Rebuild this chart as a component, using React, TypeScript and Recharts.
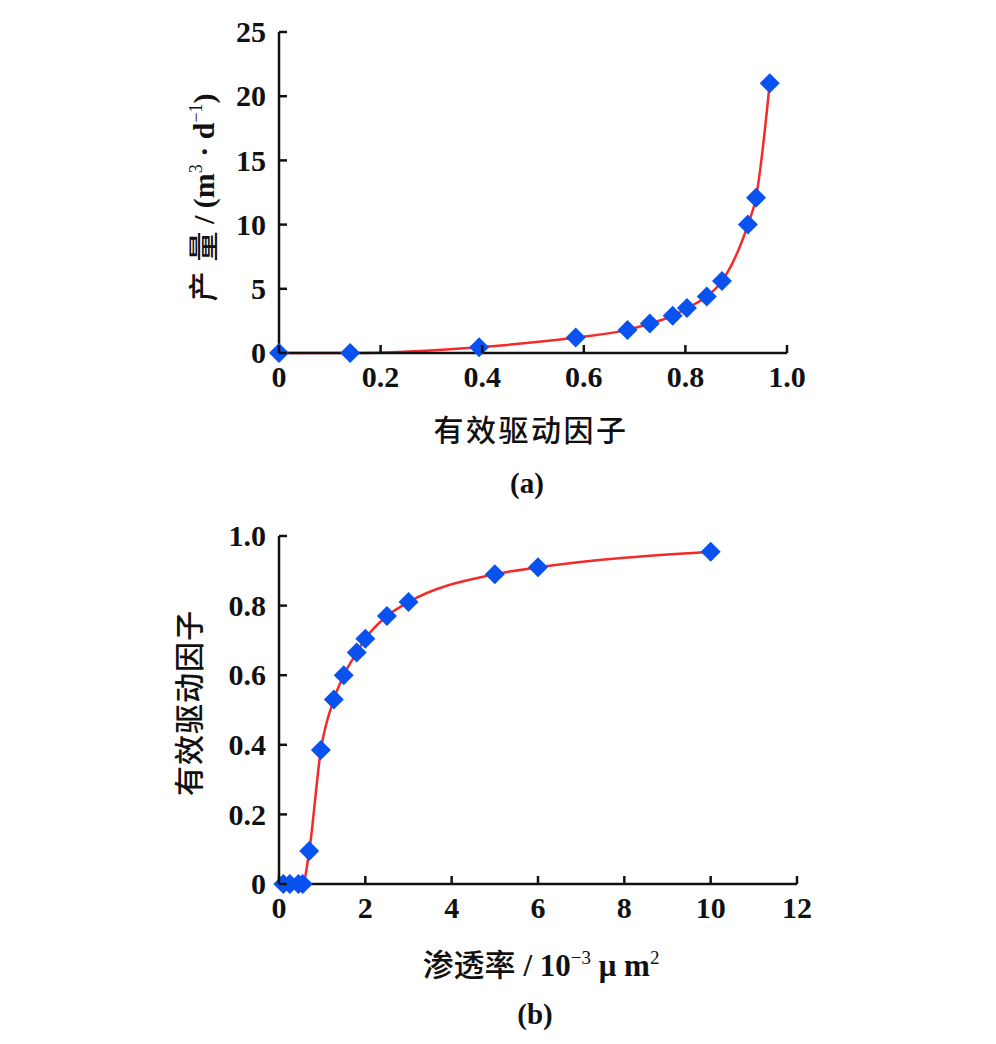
import { LineChart, Line, XAxis, YAxis, Label } from "recharts";

// (a) 产量 vs 有效驱动因子
const factorA = [0, 0.14, 0.394, 0.584, 0.686, 0.73, 0.775, 0.803, 0.842, 0.872, 0.923, 0.939, 0.966];
const outputA = [0, 0, 0.45, 1.2, 1.8, 2.3, 2.9, 3.5, 4.4, 5.6, 10, 12.1, 21];
const ticksAX = [0, 0.2, 0.4, 0.6, 0.8, 1.0];
const ticksAY = [0, 5, 10, 15, 20, 25];

// (b) 有效驱动因子 vs 渗透率
const permB = [0.1, 0.25, 0.45, 0.55, 0.7, 0.97, 1.27, 1.5, 1.8, 2.0, 2.5, 3.0, 5.0, 6.0, 10.0];
const factorB = [0, 0, 0, 0, 0.095, 0.385, 0.53, 0.6, 0.665, 0.705, 0.77, 0.81, 0.89, 0.91, 0.955];
const ticksBX = [0, 2, 4, 6, 8, 10, 12];
const ticksBY = [0, 0.2, 0.4, 0.6, 0.8, 1.0];

const dataA = factorA.map((x, i) => ({ x, y: outputA[i] }));
const dataB = permB.map((x, i) => ({ x, y: factorB[i] }));

const SERIF = "'Liberation Serif', 'Times New Roman', serif";
const CJK = "'Noto Sans CJK SC', sans-serif";
const LINE = "#f42a2a";
const MARK = "#0a52f0";
const INK = "#111";

const axisLine = { stroke: INK, strokeWidth: 2.5 };
const TICK_LEN = 8;
const X_GAP = 11;
const Y_GAP = 13;

const oneDecimal = (v: number) => (v === 0 ? "0" : v.toFixed(1));
const plain = (v: number) => String(v);

// ticks point inward, so draw the mark along with the label
function xTick(fmt: (v: number) => string) {
  return (p: any) => {
    const axisY = p.y - X_GAP;
    return (
      <g key={p.index}>
        <line x1={p.x} x2={p.x} y1={axisY} y2={axisY - TICK_LEN} stroke={INK} strokeWidth={2.5} />
        <text x={p.x} y={p.y} dy="0.78em" textAnchor="middle" fontFamily={SERIF} fontWeight="bold" fontSize={30} fill={INK}>
          {fmt(p.payload.value)}
        </text>
      </g>
    );
  };
}

function yTick(fmt: (v: number) => string) {
  return (p: any) => {
    const axisX = p.x + Y_GAP;
    return (
      <g key={p.index}>
        <line x1={axisX} x2={axisX + TICK_LEN} y1={p.y} y2={p.y} stroke={INK} strokeWidth={2.5} />
        <text x={p.x} y={p.y} dy="0.34em" textAnchor="end" fontFamily={SERIF} fontWeight="bold" fontSize={30} fill={INK}>
          {fmt(p.payload.value)}
        </text>
      </g>
    );
  };
}

function renderDiamond(p: any) {
  const { cx, cy, index } = p;
  if (cx == null || cy == null) return <g key={index} />;
  const r = 10;
  return (
    <polygon
      key={index}
      points={`${cx},${cy - r} ${cx + r},${cy} ${cx},${cy + r} ${cx - r},${cy}`}
      fill={MARK}
    />
  );
}

function ChartA() {
  return (
    <LineChart width={996} height={500} data={dataA} margin={{ top: 32, right: 209, left: 219, bottom: 107 }}>
      <XAxis
        dataKey="x"
        type="number"
        domain={[0, 1]}
        ticks={ticksAX}
        axisLine={axisLine}
        tickLine={false}
        tickSize={0}
        tickMargin={X_GAP}
        tick={xTick(oneDecimal)}
        height={40}
      >
        <Label
          content={(p: any) => {
            const vb = p.viewBox;
            return (
              <g>
                <text x={531} y={vb.y + 88} textAnchor="middle" fontFamily={CJK} fontWeight={500} fontSize={30} letterSpacing={2.5} fill={INK}>
                  有效驱动因子
                </text>
                <text x={527} y={vb.y + 140} textAnchor="middle" fontFamily={SERIF} fontWeight="bold" fontSize={29} fill={INK}>
                  (a)
                </text>
              </g>
            );
          }}
        />
      </XAxis>
      <YAxis
        dataKey="y"
        type="number"
        domain={[0, 25]}
        ticks={ticksAY}
        axisLine={axisLine}
        tickLine={false}
        tickSize={0}
        tickMargin={Y_GAP}
        tick={yTick(plain)}
        width={60}
      >
        <Label
          content={(p: any) => {
            const vb = p.viewBox;
            const x = 214;
            const y = vb.y + vb.height / 2 + 5;
            return (
              <text x={x} y={y} transform={`rotate(-90 ${x} ${y})`} textAnchor="middle" fontSize={30} fill={INK}>
                <tspan fontFamily={CJK} fontWeight={500}>产</tspan>
                <tspan fontFamily={CJK} fontWeight={500} dx={10}>量</tspan>
                <tspan fontFamily={SERIF} fontWeight="bold"> / (m</tspan>
                <tspan fontFamily={SERIF} fontSize={18} dy={-12}>3</tspan>
                <tspan fontFamily={SERIF} fontWeight="bold" dy={12}> · d</tspan>
                <tspan fontFamily={SERIF} fontSize={18} dy={-12}>−1</tspan>
                <tspan fontFamily={SERIF} fontWeight="bold" dy={12}>)</tspan>
              </text>
            );
          }}
        />
      </YAxis>
      <Line
        dataKey="y"
        type="monotone"
        stroke={LINE}
        strokeWidth={2.5}
        dot={renderDiamond}
        activeDot={false}
        isAnimationActive={false}
      />
    </LineChart>
  );
}

function ChartB() {
  return (
    <LineChart width={996} height={540} data={dataB} margin={{ top: 36, right: 199, left: 219, bottom: 116 }}>
      <XAxis
        dataKey="x"
        type="number"
        domain={[0, 12]}
        ticks={ticksBX}
        axisLine={axisLine}
        tickLine={false}
        tickSize={0}
        tickMargin={X_GAP}
        tick={xTick(plain)}
        height={40}
      >
        <Label
          content={(p: any) => {
            const vb = p.viewBox;
            return (
              <g>
                <text x={541} y={vb.y + 92} textAnchor="middle" fontSize={31} fill={INK}>
                  <tspan fontFamily={CJK} fontWeight={500}>渗透率</tspan>
                  <tspan fontFamily={SERIF} fontWeight="bold"> / 10</tspan>
                  <tspan fontFamily={SERIF} fontSize={19} dy={-12}>−3</tspan>
                  <tspan fontFamily={SERIF} fontWeight="bold" dy={12}> μ m</tspan>
                  <tspan fontFamily={SERIF} fontSize={19} dy={-12}>2</tspan>
                </text>
                <text x={535} y={vb.y + 140} textAnchor="middle" fontFamily={SERIF} fontWeight="bold" fontSize={29} fill={INK}>
                  (b)
                </text>
              </g>
            );
          }}
        />
      </XAxis>
      <YAxis
        dataKey="y"
        type="number"
        domain={[0, 1]}
        ticks={ticksBY}
        axisLine={axisLine}
        tickLine={false}
        tickSize={0}
        tickMargin={Y_GAP}
        tick={yTick(oneDecimal)}
        width={60}
      >
        <Label
          content={(p: any) => {
            const vb = p.viewBox;
            const x = 200;
            const y = vb.y + vb.height / 2 - 7;
            return (
              <text x={x} y={y} transform={`rotate(-90 ${x} ${y})`} textAnchor="middle" fontFamily={CJK} fontWeight={500} fontSize={30} letterSpacing={1} fill={INK}>
                有效驱动因子
              </text>
            );
          }}
        />
      </YAxis>
      <Line
        dataKey="y"
        type="monotone"
        stroke={LINE}
        strokeWidth={2.5}
        dot={renderDiamond}
        activeDot={false}
        isAnimationActive={false}
      />
    </LineChart>
  );
}

export default function App() {
  return (
    <div style={{ position: "absolute", left: 0, top: 0, width: 996, height: 1044, background: "#fff" }}>
      <ChartA />
      <ChartB />
    </div>
  );
}
